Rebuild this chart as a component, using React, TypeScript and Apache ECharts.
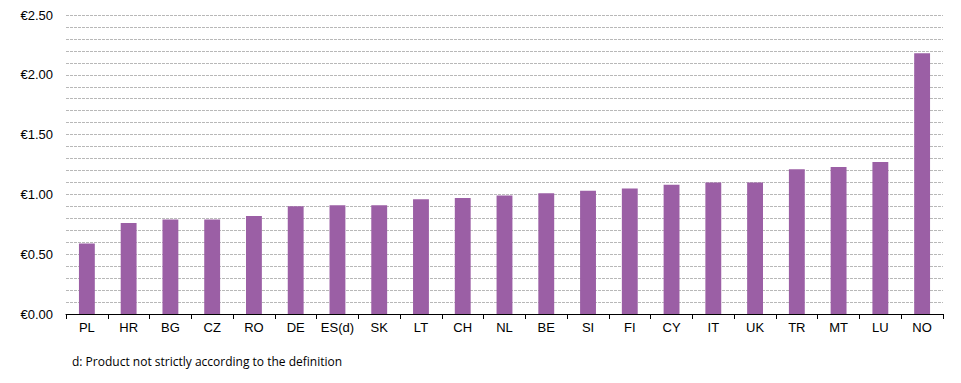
import React, { useEffect, useRef } from "react";
import * as echarts from "echarts";

const categories = ["PL", "HR", "BG", "CZ", "RO", "DE", "ES(d)", "SK", "LT", "CH", "NL", "BE", "SI", "FI", "CY", "IT", "UK", "TR", "MT", "LU", "NO"];
const prices = [0.59, 0.76, 0.79, 0.79, 0.82, 0.9, 0.91, 0.91, 0.96, 0.97, 0.99, 1.01, 1.03, 1.05, 1.08, 1.1, 1.1, 1.21, 1.23, 1.27, 2.18];
const footnote = "d: Product not strictly according to the definition";

export default function App() {
  const ref = useRef<HTMLDivElement>(null);
  useEffect(() => {
    const chart = echarts.init(ref.current!, null, { renderer: "svg" });
    chart.setOption({
      animation: false,
      grid: { left: 58, right: 10, top: 7, bottom: 69, containLabel: false },
      xAxis: {
        type: "category",
        data: categories,
        axisLine: { lineStyle: { color: "#000", width: 1 } },
        axisTick: { show: true, length: 5, lineStyle: { color: "#000" } },
        axisLabel: { interval: 0, color: "#000", fontFamily: "Arial", fontSize: 13, margin: 7 },
      },
      yAxis: {
        type: "value",
        min: 0,
        max: 2.5,
        interval: 0.1,
        axisLine: { show: false },
        axisTick: { show: false },
        axisLabel: {
          color: "#000",
          fontFamily: "Arial",
          fontSize: 13,
          margin: 13,
          formatter: (v: number) => {
            const r = Math.round(v * 10);
            return r % 5 === 0 ? "€" + (r / 10).toFixed(2) : "";
          },
        },
        splitLine: { show: true, lineStyle: { color: "#b8b8b8", type: [3, 1], width: 1 } },
      },
      series: [
        {
          type: "bar",
          data: prices,
          barWidth: "38%",
          itemStyle: { color: "#9B5FA5" },
        },
      ],
      graphic: [
        {
          type: "text",
          left: 64,
          top: 347,
          style: { text: footnote, fill: "#000", font: "12px 'Open Sans', sans-serif" },
        },
      ],
    });
    return () => chart.dispose();
  }, []);
  return <div ref={ref} style={{ width: 945, height: 375 }} />;
}
